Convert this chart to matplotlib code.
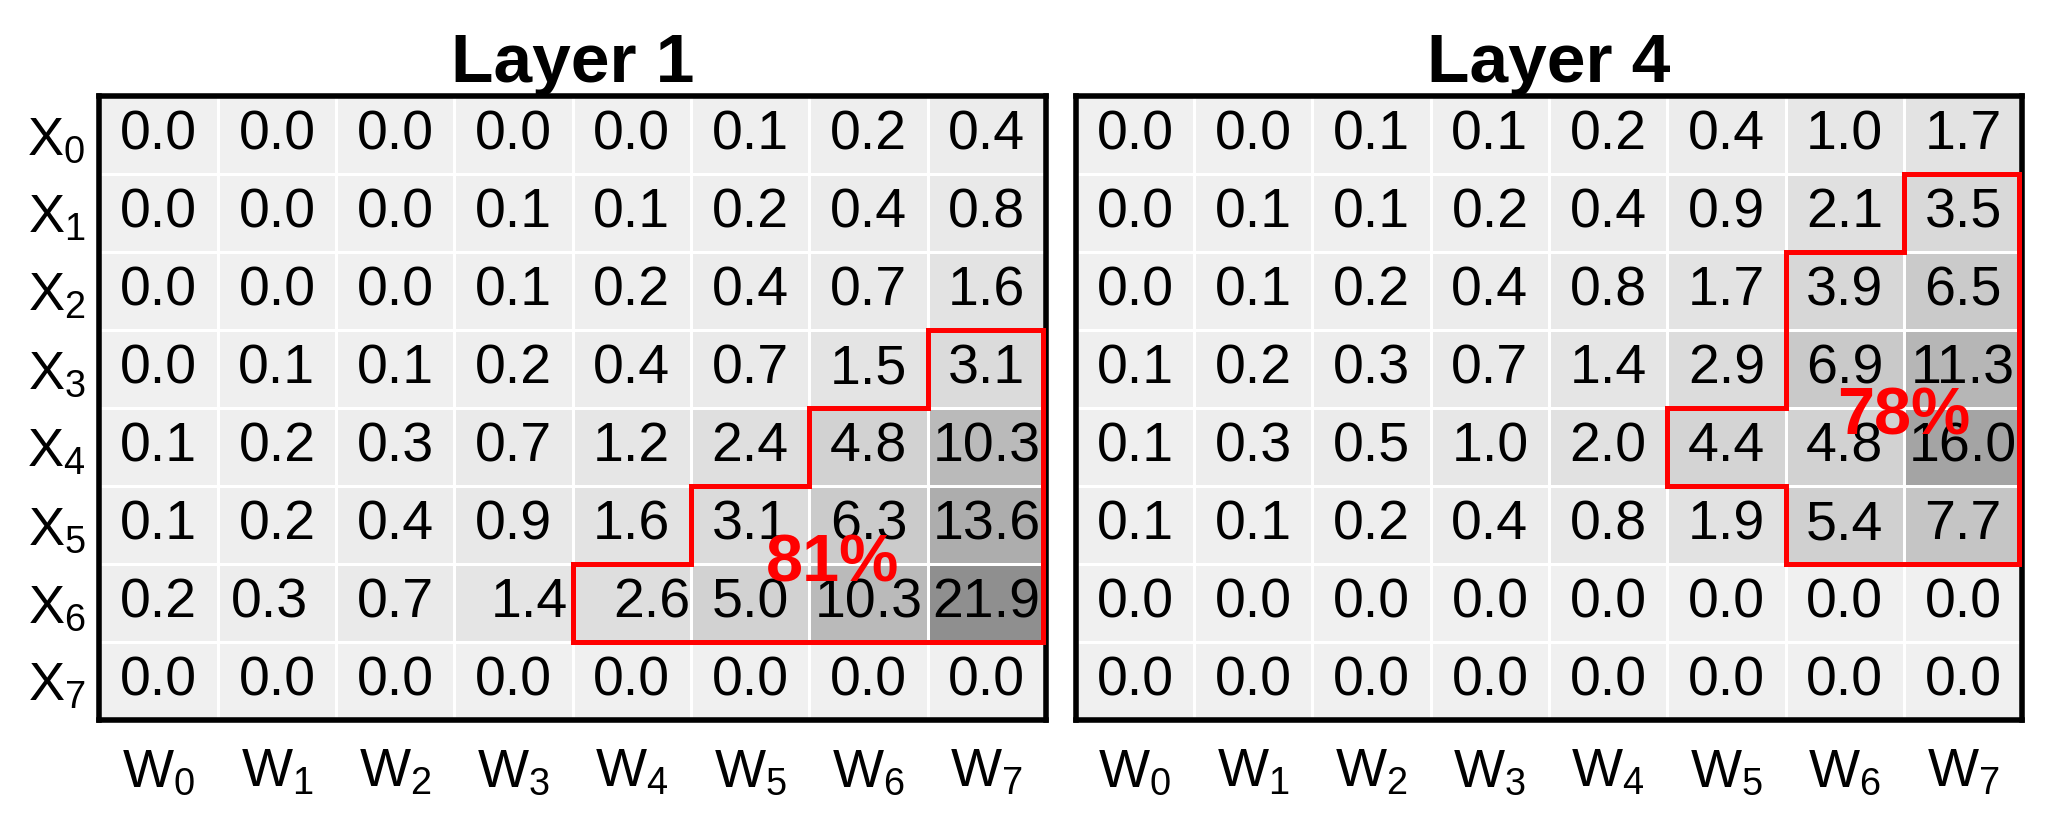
import numpy as np
import matplotlib
matplotlib.use("Agg")
import matplotlib.pyplot as plt
from matplotlib.colors import LinearSegmentedColormap, PowerNorm
from matplotlib.collections import LineCollection

plt.rcParams['font.family'] = ['Liberation Sans', 'DejaVu Sans']
plt.rcParams['mathtext.fontset'] = 'custom'
plt.rcParams['mathtext.rm'] = 'Liberation Sans'
plt.rcParams['mathtext.default'] = 'regular'

# values shown in the cells (rows X0..X7, columns W0..W7)
layer1 = [
    [0.0, 0.0, 0.0, 0.0, 0.0, 0.1, 0.2, 0.4],
    [0.0, 0.0, 0.0, 0.1, 0.1, 0.2, 0.4, 0.8],
    [0.0, 0.0, 0.0, 0.1, 0.2, 0.4, 0.7, 1.6],
    [0.0, 0.1, 0.1, 0.2, 0.4, 0.7, 1.5, 3.1],
    [0.1, 0.2, 0.3, 0.7, 1.2, 2.4, 4.8, 10.3],
    [0.1, 0.2, 0.4, 0.9, 1.6, 3.1, 6.3, 13.6],
    [0.2, 0.3, 0.7, 1.4, 2.6, 5.0, 10.3, 21.9],
    [0.0, 0.0, 0.0, 0.0, 0.0, 0.0, 0.0, 0.0],
]
layer4 = [
    [0.0, 0.0, 0.1, 0.1, 0.2, 0.4, 1.0, 1.7],
    [0.0, 0.1, 0.1, 0.2, 0.4, 0.9, 2.1, 3.5],
    [0.0, 0.1, 0.2, 0.4, 0.8, 1.7, 3.9, 6.5],
    [0.1, 0.2, 0.3, 0.7, 1.4, 2.9, 6.9, 11.3],
    [0.1, 0.3, 0.5, 1.0, 2.0, 4.4, 4.8, 16.0],
    [0.1, 0.1, 0.2, 0.4, 0.8, 1.9, 5.4, 7.7],
    [0.0, 0.0, 0.0, 0.0, 0.0, 0.0, 0.0, 0.0],
    [0.0, 0.0, 0.0, 0.0, 0.0, 0.0, 0.0, 0.0],
]
titles = ["Layer 1", "Layer 4"]
row_labels = [r"$X_{%d}$" % i for i in range(8)]
col_labels = [r"$W_{%d}$" % i for i in range(8)]

# first highlighted column in each row (8 = none), highlight runs to W7
hl_start1 = [8, 8, 8, 7, 6, 5, 4, 8]
hl_start4 = [8, 7, 6, 6, 5, 6, 8, 8]
percents = ["81%", "78%"]
percent_pos = [(5.7, 5.5), (6.5, 3.62)]

# a few labels in the original sit a little off-centre
nudges = [{(6, 1): -0.06, (6, 3): 0.13, (6, 4): 0.17}, {}]

cmap = LinearSegmentedColormap.from_list("grey", ["#f0f0f0", "#8f8f8f"])
norm = PowerNorm(gamma=0.78, vmin=0, vmax=21.9)


def outline_segments(starts, inset=0.025):
    n = len(starts)
    mask = np.zeros((n, n), dtype=bool)
    for r, s in enumerate(starts):
        mask[r, s:] = True
    segs = []
    for r in range(n):
        for c in range(n):
            if not mask[r, c]:
                continue
            right = c + 0.5 if c < n - 1 else c + 0.5 - inset
            if r == 0 or not mask[r - 1, c]:
                segs.append([(c - 0.5, r - 0.5), (right, r - 0.5)])
            if r == n - 1 or not mask[r + 1, c]:
                segs.append([(c - 0.5, r + 0.5), (right, r + 0.5)])
            if c == 0 or not mask[r, c - 1]:
                segs.append([(c - 0.5, r - 0.5), (c - 0.5, r + 0.5)])
            if c == n - 1 or not mask[r, c + 1]:
                segs.append([(right, r - 0.5), (right, r + 0.5)])
    return segs


fig = plt.figure(figsize=(10.235, 4.09), dpi=200)
ax1 = fig.add_axes([0.0486, 0.1198, 0.4623, 0.7628])
ax2 = fig.add_axes([0.5256, 0.1198, 0.4623, 0.7628])

for k, (ax, data, starts) in enumerate(zip([ax1, ax2], [layer1, layer4], [hl_start1, hl_start4])):
    vals = np.array(data)
    edges = np.arange(-0.5, 8.5, 1)
    ax.pcolormesh(edges, edges, vals, cmap=cmap, norm=norm,
                  edgecolors="white", linewidth=1.0)
    ax.set_xlim(-0.5, 7.5)
    ax.set_ylim(7.5, -0.5)
    for r in range(8):
        for c in range(8):
            dx = nudges[k].get((r, c), 0)
            ax.text(c + dx, r, "%.1f" % vals[r, c], ha="center", va="center",
                    fontsize=20, color="black")
    lc = LineCollection(outline_segments(starts), colors="#ff0000",
                        linewidths=1.8, capstyle="projecting", zorder=3)
    ax.add_collection(lc)
    ax.text(percent_pos[k][0], percent_pos[k][1], percents[k], ha="center",
            va="center", fontsize=24, fontweight="bold", color="#ff0000", zorder=4)
    ax.set_title(titles[k], fontsize=25, fontweight="bold", pad=1)
    ax.set_xticks(range(8))
    ax.set_xticklabels(col_labels, fontsize=19.5)
    ax.tick_params(axis="x", length=0, pad=10)
    if k == 0:
        ax.set_yticks(range(8))
        ax.set_yticklabels(row_labels, fontsize=19.5)
        ax.tick_params(axis="y", length=0, pad=5)
    else:
        ax.set_yticks([])
    for sp in ax.spines.values():
        sp.set_linewidth(2.0)
        sp.set_color("black")

fig.savefig("out.png", dpi=200)
